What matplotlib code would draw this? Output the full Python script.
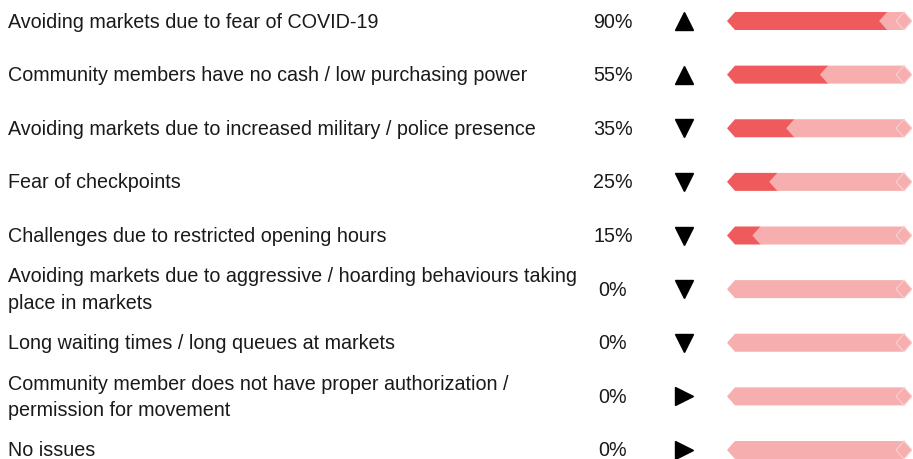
import matplotlib.pyplot as plt
from matplotlib.patches import Polygon
from matplotlib.transforms import blended_transform_factory

plt.rcParams['font.family'] = ['Liberation Sans', 'DejaVu Sans']

# データ
labels = [
    'Avoiding markets due to fear of COVID-19',
    'Community members have no cash / low purchasing power',
    'Avoiding markets due to increased military / police presence',
    'Fear of checkpoints',
    'Challenges due to restricted opening hours',
    'Avoiding markets due to aggressive / hoarding behaviours taking\nplace in markets',
    'Long waiting times / long queues at markets',
    'Community member does not have proper authorization /\npermission for movement',
    'No issues',
]
values = [90, 55, 35, 25, 15, 0, 0, 0, 0]
trends = ['up', 'up', 'down', 'down', 'down', 'down', 'down', 'right', 'right']

DARK = '#EF5A5C'
LIGHT = '#F7AEAE'

W, H = 913, 460
fig = plt.figure(figsize=(W / 100, H / 100), dpi=100)

# 棒グラフ用の軸 (0%→x=727px, 100%→x=896px, 右端にキャップ)
px_per_unit = (896 - 727) / 100
cap = 16 / px_per_unit
tip = 8 / px_per_unit
ax = fig.add_axes([727 / W, 0, (912 - 727) / W, 1])
ax.set_xlim(0, 100 + cap)
row_px = (451 - 22) / 8
ax.set_ylim(8 + (H - 451) / row_px, -22 / row_px)
ax.axis('off')
hh = 9 / row_px


def hexagon(a, b, y):
    return [(a, y), (a + tip, y - hh), (b - tip, y - hh), (b, y),
            (b - tip, y + hh), (a + tip, y + hh)]


for i, v in enumerate(values):
    if v > 0:
        ax.add_patch(Polygon(hexagon(0, v + 2 * tip, i), closed=True,
                             facecolor=DARK, edgecolor='none'))
    ax.add_patch(Polygon(hexagon(v, 100 + cap, i), closed=True,
                         facecolor=LIGHT, edgecolor='none'))
    # 右端のキャップの輪郭
    ax.plot([100 + tip, 100, 100 + tip, 100 + cap, 100 + tip],
            [i - hh, i, i + hh, i, i - hh], color='#FBD0D0', lw=0.8)

# ラベル・数値・矢印
tr = blended_transform_factory(fig.transFigure, ax.transData)
markers = {'up': '^', 'down': 'v', 'right': '>'}
for i, (lab, v, t) in enumerate(zip(labels, values, trends)):
    fig.text(8 / W, i, lab, transform=tr, ha='left', va='center',
             fontsize=14.2, color='#1a1a1a', linespacing=1.5)
    fig.text(613 / W, i, f'{v}%', transform=tr, ha='center', va='center',
             fontsize=14.2, color='#1a1a1a')
    fig.add_artist(plt.Line2D([684 / W], [i], transform=tr, marker=markers[t],
                              markersize=13, color='black', linestyle='none'))

fig.savefig('out.png', dpi=100)
